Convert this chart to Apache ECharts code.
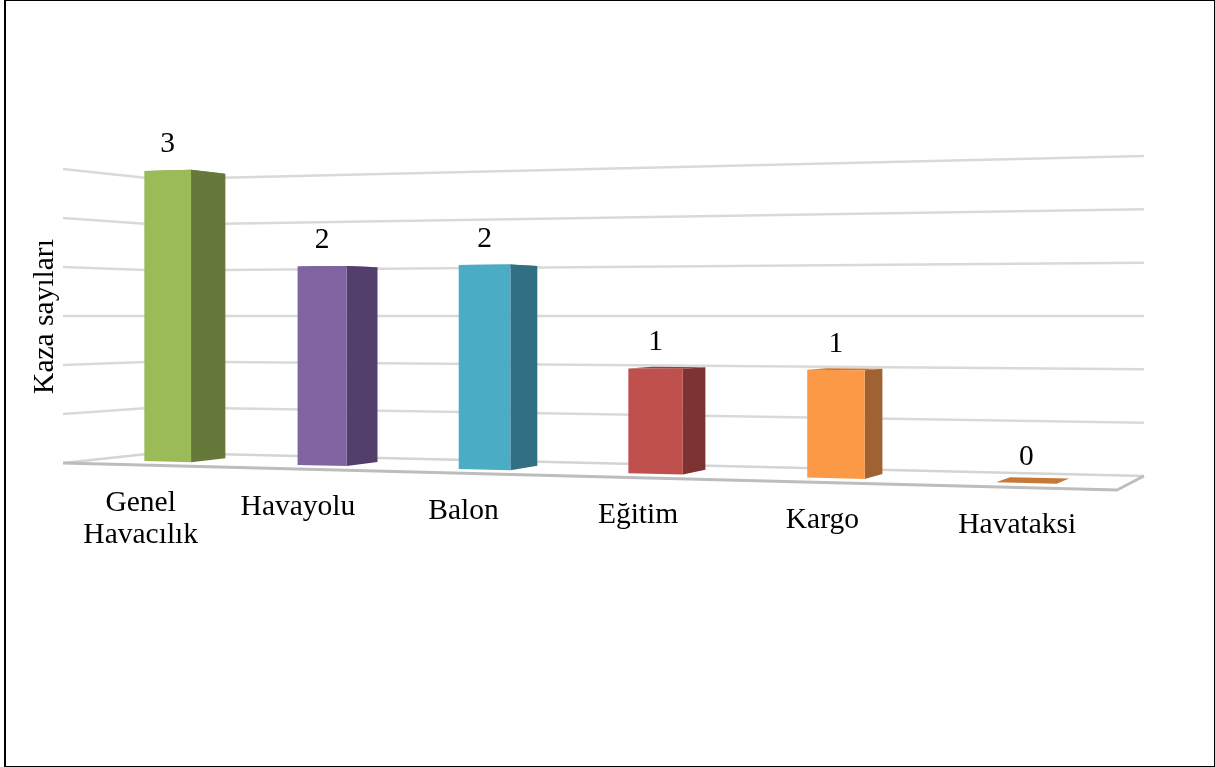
<!DOCTYPE html>
<html><head><meta charset="utf-8">
<style>html,body{margin:0;padding:0;background:#fff}#c{width:1215px;height:767px}</style>
<script src="https://cdn.jsdelivr.net/npm/echarts@6/dist/echarts.min.js"></script>
</head><body><div id="c"></div>
<script>
var categories = ['Genel\nHavacılık', 'Havayolu', 'Balon', 'Eğitim', 'Kargo', 'Havataksi'];
var values = [3, 2, 2, 1, 1, 0];
var tickValues = [0, 0.5, 1, 1.5, 2, 2.5, 3];
var frontColors = ['#9BBB59', '#8064A2', '#4BACC6', '#C0504D', '#FB9946', '#FB9946'];
var sideColors = ['#66793A', '#533F6B', '#316F82', '#7D3331', '#A06230', '#A06230'];
var topColors = ['#7F9547', '#664F82', '#3B899E', '#9A403D', '#C57838', '#C57838'];

var FONT = '"Liberation Serif","Times New Roman",serif';
var FL = [63, 463], FR = [1117, 490], BR = [1144, 476], BL = [158.8, 452.8], HORIZON = 316;
var BAR_FRAC = 0.31, W_FRONT = 0.30, W_BACK = 0.68;

var H = (function () {
  var x0 = FL[0], y0 = FL[1], x1 = FR[0], y1 = FR[1], x2 = BR[0], y2 = BR[1], x3 = BL[0], y3 = BL[1];
  var dx1 = x1 - x2, dx2 = x3 - x2, sx = x0 - x1 + x2 - x3;
  var dy1 = y1 - y2, dy2 = y3 - y2, sy = y0 - y1 + y2 - y3;
  var det = dx1 * dy2 - dx2 * dy1;
  var g = (sx * dy2 - dx2 * sy) / det, h = (dx1 * sy - sx * dy1) / det;
  return { a: x1 - x0 + g * x1, b: x3 - x0 + h * x3, c: x0, d: y1 - y0 + g * y1, e: y3 - y0 + h * y3, f: y0, g: g, h: h };
})();
// s: 0..1 along the category axis, t: 0..1 depth, k: 0..1 height on the value axis
function project(s, t, k) {
  var q = H.g * s + H.h * t + 1;
  var x = (H.a * s + H.b * t + H.c) / q, y = (H.d * s + H.e * t + H.f) / q;
  return [x, y - k * 2 * (y - HORIZON)];
}
function normal(api, params, cat, val) {
  var p = api.coord([cat, val]), r = params.coordSys;
  return [(p[0] - r.x) / r.width, (r.y + r.height - p[1]) / r.height];
}
function poly(points, fill, extra) {
  return { type: 'polygon', shape: { points: points }, style: Object.assign({ fill: fill }, extra || {}), silent: true };
}
function lineStyle(color, w) { return { stroke: color, lineWidth: w, fill: null, lineJoin: 'round' }; }

function renderFloor() {
  return { type: 'group', children: [
    poly([FL, FR, BR, BL], '#fff', {}),
    { type: 'polyline', shape: { points: [FL, BL, BR] }, style: lineStyle('#D4D4D4', 2.5) },
    { type: 'polyline', shape: { points: [FL, FR, BR] }, style: lineStyle('#BDBDBD', 3) }
  ] };
}
function renderGrid(params, api) {
  var r = params.coordSys;
  var k = (r.y + r.height - api.coord([0, api.value(0)])[1]) / r.height;
  if (k === 0) return renderFloor();
  return { type: 'polyline', silent: true,
    shape: { points: [project(0, 0, k), project(0, 1, k), project(1, 1, k)] },
    style: lineStyle('#D9D9D9', 2.5) };
}
function renderBar(params, api) {
  var cat = api.value(0), val = api.value(1);
  var n = normal(api, params, cat, val), r = params.coordSys;
  var half = api.size([1, 0])[0] / r.width * BAR_FRAC / 2;
  var s0 = n[0] - half, s1 = n[0] + half, k = n[1];
  var a = project(s0, W_FRONT, 0), b = project(s1, W_FRONT, 0), c = project(s1, W_BACK, 0), d = project(s0, W_BACK, 0);
  var at = project(s0, W_FRONT, k), bt = project(s1, W_FRONT, k), ct = project(s1, W_BACK, k), dt = project(s0, W_BACK, k);
  var i = params.dataIndex, children = [];
  children.push(poly([at, bt, ct, dt], topColors[i]));
  if (val > 0) {
    children.push(poly([bt, ct, c, b], sideColors[i]));
    children.push(poly([at, bt, b, a], frontColors[i]));
  }
  var cx = (at[0] + bt[0]) / 2, cy = (at[1] + bt[1]) / 2;
  children.push({ type: 'text', silent: true, x: cx, y: cy - 26,
    style: { text: String(val), font: '29.5px ' + FONT, fill: '#000', align: 'center', verticalAlign: 'middle' } });
  var lab = project(n[0], 0, 0);
  children.push({ type: 'text', silent: true, x: lab[0] + 2, y: lab[1] + 22,
    style: { text: categories[i], font: '29.5px ' + FONT, lineHeight: 32, fill: '#000', align: 'center', verticalAlign: 'top' } });
  return { type: 'group', children: children };
}

var chart = echarts.init(document.getElementById('c'), null, { renderer: 'canvas' });
chart.setOption({
  animation: false,
  backgroundColor: '#fff',
  graphic: [{ type: 'rect', silent: true, shape: { x: 5, y: 0, width: 1210, height: 767 },
    style: { fill: null, stroke: '#000', lineWidth: 2 } }],
  grid: { left: 63, right: 71, top: 169, height: 295 },
  xAxis: { type: 'category', data: categories, axisLine: { show: false }, axisTick: { show: false }, axisLabel: { show: false }, splitLine: { show: false } },
  yAxis: { type: 'value', min: 0, max: 3, interval: 0.5, name: 'Kaza sayıları', nameLocation: 'middle', nameGap: 3, nameRotate: 90,
    nameTextStyle: { fontFamily: FONT, fontSize: 29.5, color: '#000' },
    axisLine: { show: false }, axisTick: { show: false }, axisLabel: { show: false }, splitLine: { show: false } },
  series: [
    { type: 'custom', coordinateSystem: 'cartesian2d', clip: false, silent: true, z: 1,
      encode: { x: 1, y: 0 }, data: tickValues.map(function (v) { return [v, 0]; }), renderItem: renderGrid },
    { type: 'custom', coordinateSystem: 'cartesian2d', clip: false, silent: true, z: 2,
      encode: { x: 0, y: 1 }, data: values.map(function (v, i) { return [i, v]; }), renderItem: renderBar }
  ]
});
</script></body></html>
